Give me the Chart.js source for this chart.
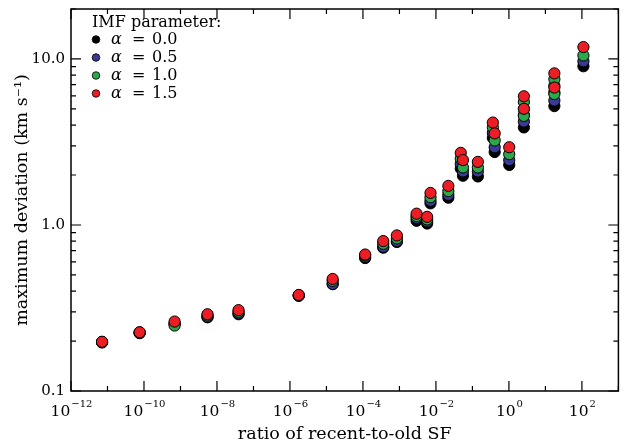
<!DOCTYPE html>
<html>
<head>
<meta charset="utf-8">
<script src="https://cdn.jsdelivr.net/npm/chart.js@4.4.0/dist/chart.umd.min.js"></script>
<style>
  html, body { margin: 0; padding: 0; background: #fff; }
  #wrap { width: 625px; height: 443px; }
</style>
</head>
<body>
<div id="wrap"><canvas id="chart"></canvas></div>
<script>
// ratio of recent-to-old SF (x)
const ratio = [7.1e-12, 7.6e-11, 6.9e-10, 5.5e-9, 3.9e-8, 1.74e-6, 1.48e-5, 1.15e-4, 3.6e-4, 8.5e-4,
  2.95e-3, 5.75e-3, 7.1e-3, 0.0219, 0.0479, 0.055, 0.141, 0.363, 0.407, 1.02,
  2.57, 2.57, 17.6, 17.6, 110];

// maximum deviation (km/s) per IMF alpha
const alpha00 = [0.196, 0.223, 0.255, 0.278, 0.290, 0.374, 0.440, 0.632, 0.730, 0.790,
  1.06, 1.02, 1.35, 1.46, 2.19, 1.98, 1.96, 3.35, 2.75, 2.30,
  4.60, 3.87, 6.30, 5.20, 9.04];
const alpha05 = [0.197, 0.224, 0.254, 0.279, 0.293, 0.376, 0.441, 0.640, 0.738, 0.800,
  1.10, 1.05, 1.40, 1.52, 2.34, 2.10, 2.10, 3.59, 2.94, 2.46,
  5.00, 4.20, 6.90, 5.62, 9.68];
const alpha10 = [0.197, 0.225, 0.248, 0.285, 0.300, 0.377, 0.460, 0.655, 0.770, 0.830,
  1.13, 1.08, 1.47, 1.60, 2.51, 2.22, 2.22, 3.87, 3.23, 2.67,
  5.51, 4.54, 7.55, 6.15, 10.5];
const alpha15 = [0.198, 0.226, 0.262, 0.290, 0.307, 0.379, 0.473, 0.664, 0.800, 0.865,
  1.17, 1.12, 1.56, 1.72, 2.72, 2.46, 2.40, 4.14, 3.56, 2.94,
  5.96, 5.01, 8.19, 6.73, 11.8];

const alphaValues = ['0.0', '0.5', '1.0', '1.5'];
const seriesColors = ['#000000', '#3a3a94', '#2aa84a', '#ec1d25'];

// axis ticks
const xTickExps = [-12, -10, -8, -6, -4, -2, 0, 2];
const yTickValues = [0.1, 1, 10];

const FONT = "'DejaVu Serif', serif";

function toPoints(ys) {
  return ratio.map((r, i) => ({ x: r, y: ys[i] }));
}

const seriesValues = [alpha00, alpha05, alpha10, alpha15];
const datasets = seriesValues.map((ys, i) => ({
  label: 'α = ' + alphaValues[i],
  data: toPoints(ys),
  backgroundColor: seriesColors[i],
  borderColor: '#000',
  borderWidth: 1,
  pointRadius: 5.6,
  order: 4 - i
}));

// frame, inward ticks, x tick labels and the legend box
const framePlugin = {
  id: 'frame',
  afterDraw(chart) {
    const { ctx, chartArea: a, scales: { x, y } } = chart;
    ctx.save();
    ctx.strokeStyle = '#000';
    ctx.lineWidth = 1.5;
    ctx.strokeRect(a.left, a.top, a.right - a.left, a.bottom - a.top);

    ctx.lineWidth = 1.2;
    // x ticks every decade, longer on labelled ones
    for (let e = Math.round(Math.log10(x.min)); e <= Math.round(Math.log10(x.max)); e++) {
      const px = x.getPixelForValue(Math.pow(10, e));
      const len = xTickExps.includes(e) ? 10 : 5;
      ctx.beginPath();
      ctx.moveTo(px, a.bottom); ctx.lineTo(px, a.bottom - len);
      ctx.moveTo(px, a.top); ctx.lineTo(px, a.top + len);
      ctx.stroke();
    }
    // y ticks
    yTickValues.forEach(dec => {
      for (let m = 1; m <= 9; m++) {
        const v = dec * m;
        if (v > y.max + 1e-9) continue;
        const py = y.getPixelForValue(v);
        const len = m === 1 ? 10 : 5;
        ctx.beginPath();
        ctx.moveTo(a.left, py); ctx.lineTo(a.left + len, py);
        ctx.moveTo(a.right, py); ctx.lineTo(a.right - len, py);
        ctx.stroke();
      }
    });

    // x tick labels 10^n
    ctx.fillStyle = '#000';
    ctx.textBaseline = 'alphabetic';
    ctx.textAlign = 'left';
    xTickExps.forEach(e => {
      const px = x.getPixelForValue(Math.pow(10, e));
      ctx.font = '15.5px ' + FONT;
      const wBase = ctx.measureText('10').width;
      const exp = String(e).replace('-', '\u2212');
      ctx.font = '10px ' + FONT;
      const wExp = ctx.measureText(exp).width;
      const start = px - (wBase + wExp) / 2;
      ctx.font = '15.5px ' + FONT;
      ctx.fillText('10', start, a.bottom + 25);
      ctx.font = '10px ' + FONT;
      ctx.fillText(exp, start + wBase + 1, a.bottom + 16);
    });

    // legend
    const lx = a.left + 21, ly = a.top + 14;
    ctx.textBaseline = 'middle';
    ctx.font = '16px ' + FONT;
    ctx.fillText('IMF parameter:', lx, ly);
    chart.data.datasets.forEach((ds, i) => {
      const yy = ly + 16.5 + 18 * i;
      ctx.beginPath();
      ctx.arc(lx + 4, yy, 3.8, 0, Math.PI * 2);
      ctx.fillStyle = ds.backgroundColor;
      ctx.fill();
      ctx.lineWidth = 0.8;
      ctx.strokeStyle = '#000';
      ctx.stroke();
      ctx.fillStyle = '#000';
      ctx.font = 'italic 16px ' + FONT;
      ctx.fillText('α', lx + 19, yy);
      ctx.font = '16px ' + FONT;
      ctx.fillText('=', lx + 40, yy);
      ctx.fillText(alphaValues[i], lx + 60, yy);
    });
    ctx.restore();
  }
};

new Chart(document.getElementById('chart'), {
  type: 'scatter',
  data: { datasets },
  options: {
    responsive: true,
    maintainAspectRatio: false,
    animation: false,
    layout: { padding: { left: 0, right: 4, top: 9, bottom: 0 } },
    plugins: {
      legend: { display: false },
      tooltip: { enabled: false }
    },
    scales: {
      x: {
        type: 'logarithmic',
        min: 1e-12,
        max: 1e3,
        grid: { display: false, drawTicks: false },
        border: { display: false },
        ticks: { display: false },
        title: {
          display: true,
          text: 'ratio of recent-to-old SF',
          color: '#000',
          font: { family: FONT, size: 17.5, lineHeight: 1 },
          padding: { top: 0, bottom: 0 }
        },
        afterFit(scale) { scale.height = 52; }
      },
      y: {
        type: 'logarithmic',
        min: 0.1,
        max: 20,
        grid: { display: false, drawTicks: false },
        border: { display: false },
        afterBuildTicks(scale) { scale.ticks = yTickValues.map(v => ({ value: v })); },
        ticks: {
          color: '#000',
          padding: 6,
          font: { family: FONT, size: 15 },
          callback: v => Number(v).toFixed(1)
        },
        title: {
          display: true,
          text: 'maximum deviation (km s\u207B\u00B9)',
          color: '#000',
          font: { family: FONT, size: 17.5, lineHeight: 1 },
          padding: { top: 14, bottom: 0 }
        },
        afterFit(scale) {
          scale.width = 71;
          scale.paddingTop = 0;
          scale.paddingBottom = 0;
        }
      }
    }
  },
  plugins: [framePlugin]
});
</script>
</body>
</html>
